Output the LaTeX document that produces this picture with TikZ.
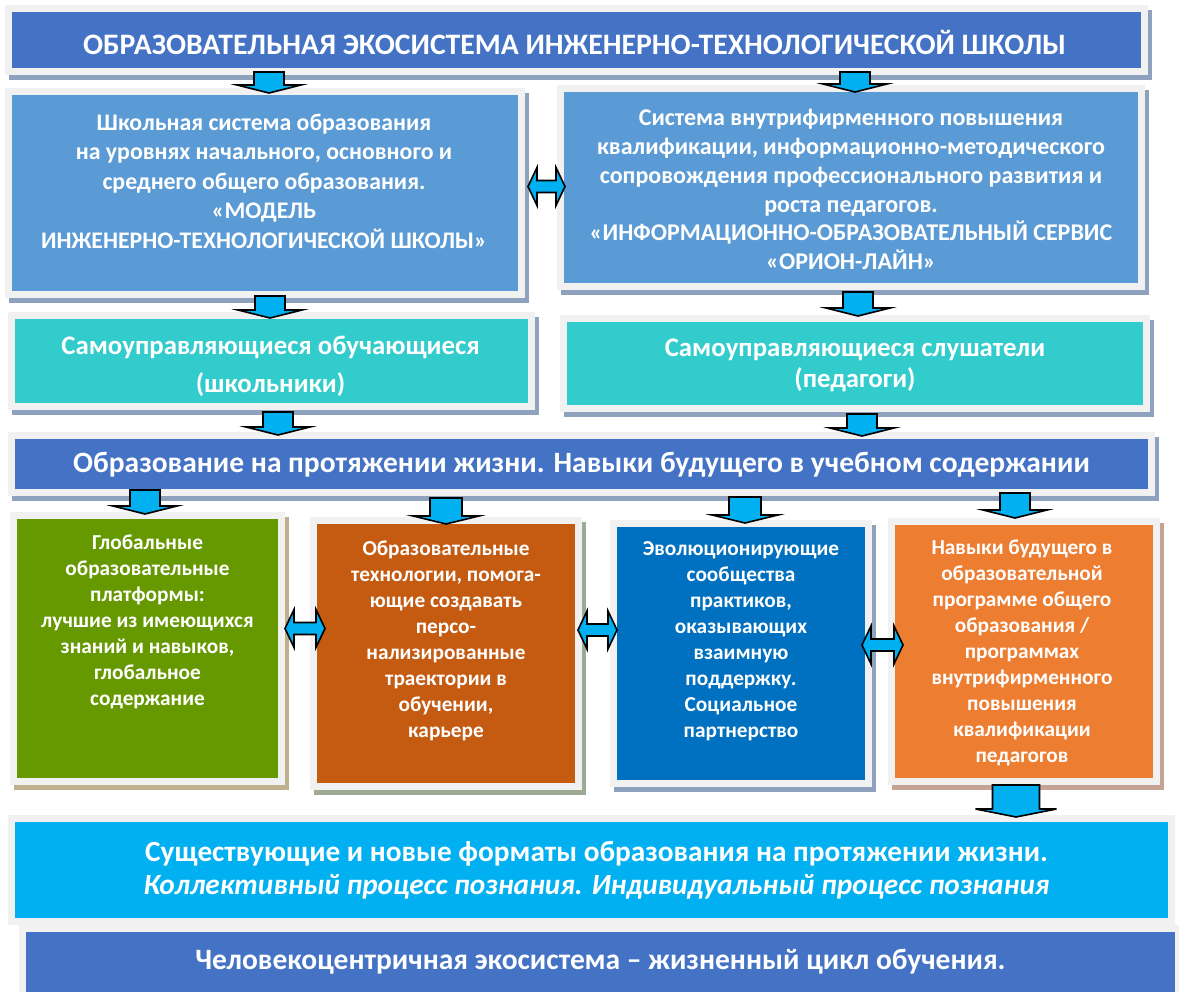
\documentclass[tikz,border=0pt]{standalone}
\usepackage{fontspec}
\setmainfont{Carlito}
\usetikzlibrary{positioning}
\usetikzlibrary{calc}

\definecolor{titleblue}{HTML}{4472C4}
\definecolor{skyblue}{HTML}{5B9BD5}
\definecolor{tealbox}{HTML}{33CCCC}
\definecolor{leafgreen}{HTML}{669900}
\definecolor{rust}{HTML}{C55A11}
\definecolor{deepblue}{HTML}{0070C0}
\definecolor{orangebox}{HTML}{ED7D31}
\definecolor{cyanbox}{HTML}{00B0F0}
\definecolor{framegray}{HTML}{F1F1F1}
\definecolor{shblue}{HTML}{8EA2BE}
\definecolor{shtan}{HTML}{BDB08A}
\definecolor{shsage}{HTML}{9DAA94}
\definecolor{shpink}{HTML}{C4A393}

\tikzset{box/.style={fill=#1, draw=framegray, line width=7pt, inner sep=0pt}}
\tikzset{boxshadow/.style={preaction={draw=#1, fill=#1, line width=7pt,
  transform canvas={shift={(4pt,-5pt)}}}}}
\tikzset{txt/.style={text=white, align=center, inner sep=0pt}}
\tikzset{blockarr/.style={fill=cyanbox, draw=black, line width=1.6pt, line join=miter}}

% block arrow pointing down, from top centre to tip; [half shaft width]
\newcommand{\blockdown}[3][15]{%
  \draw[blockarr] let \p1=#2, \p2=#3 in
    (\x1-#1pt,\y1) -- (\x1+#1pt,\y1) -- (\x1+#1pt,\y2+8pt) -- (\x1+#1pt+17pt,\y2+8pt)
    -- (\x1,\y2) -- (\x1-#1pt-17pt,\y2+8pt) -- (\x1-#1pt,\y2+8pt) -- cycle;}
% block arrow with two heads, from left tip to right tip
\newcommand{\blockboth}[2]{%
  \draw[blockarr] let \p1=#1, \p2=#2 in
    (\x1,\y1) -- (\x1+9pt,\y1+19pt) -- (\x1+9pt,\y1+6pt) -- (\x2-9pt,\y1+6pt)
    -- (\x2-9pt,\y1+19pt) -- (\x2,\y1) -- (\x2-9pt,\y1-19pt) -- (\x2-9pt,\y1-6pt)
    -- (\x1+9pt,\y1-6pt) -- (\x1+9pt,\y1-19pt) -- cycle;}

\begin{document}
\begin{tikzpicture}[x=1pt,y=-1pt]
\useasboundingbox (0,0) rectangle (1179,992);

% boxes
\node[box=titleblue, boxshadow=shblue, minimum width=1136, minimum height=63] (title) at (576.5,40) {};
\node[box=skyblue, boxshadow=shblue, minimum width=513, minimum height=203] (school) at (265,193) {};
\node[box=skyblue, boxshadow=shblue, minimum width=581, minimum height=198] (service) at (851,187.5) {};
\node[box=tealbox, boxshadow=shblue, minimum width=520, minimum height=91] (pupils) at (271.5,361) {};
\node[box=tealbox, boxshadow=shblue, minimum width=583, minimum height=90] (teachers) at (855,363.5) {};
\node[box=titleblue, boxshadow=shblue, minimum width=1140, minimum height=57] (life) at (581.5,464) {};
\node[box=leafgreen, boxshadow=shtan, minimum width=268, minimum height=266] (global) at (147.5,648.5) {};
\node[box=rust, boxshadow=shsage, minimum width=265, minimum height=266] (tech) at (446,653.5) {};
\node[box=deepblue, boxshadow=shblue, minimum width=255, minimum height=260] (community) at (741,653.5) {};
\node[box=orangebox, boxshadow=shpink, minimum width=265, minimum height=260] (skills) at (1024,651.5) {};
\node[box=cyanbox, minimum width=1160, minimum height=103] (formats) at (591.5,870) {};
\node[box=titleblue, minimum width=1156, minimum height=73] (base) at (600.5,965) {};

% texts
\node[txt, font=\bfseries\fontsize{29.7}{34}\selectfont] (titletxt) at ($(title)+(-2,2)$)
  {ОБРАЗОВАТЕЛЬНАЯ ЭКОСИСТЕМА ИНЖЕНЕРНО-ТЕХНОЛОГИЧЕСКОЙ ШКОЛЫ};
\node[txt, font=\bfseries\fontsize{23.8}{29.5}\selectfont] (schooltxt) at ($(school)+(-1,-12)$)
  {Школьная система образования\\на уровнях начального, основного и\\среднего общего образования.\\«МОДЕЛЬ\\ИНЖЕНЕРНО-ТЕХНОЛОГИЧЕСКОЙ ШКОЛЫ»};
\node[txt, font=\bfseries\fontsize{24}{28.8}\selectfont] (servicetxt) at ($(service)+(0,2)$)
  {Система внутрифирменного повышения\\квалификации, информационно-методического\\сопровождения профессионального развития и\\роста педагогов.\\«ИНФОРМАЦИОННО-ОБРАЗОВАТЕЛЬНЫЙ СЕРВИС\\«ОРИОН-ЛАЙН»};
\node[txt, font=\bfseries\fontsize{26.8}{38}\selectfont] (pupilstxt) at ($(pupils)+(-1,5)$)
  {Самоуправляющиеся обучающиеся\\(школьники)};
\node[txt, font=\bfseries\fontsize{26.8}{31}\selectfont] (teacherstxt) at ($(teachers)+(0,2)$)
  {Самоуправляющиеся слушатели\\(педагоги)};
\node[txt, font=\bfseries\fontsize{29.5}{34}\selectfont] (lifetxt) at ($(life)+(0,1)$)
  {Образование на протяжении жизни. Навыки будущего в учебном содержании};
\node[txt, font=\bfseries\fontsize{21.3}{26}\selectfont] (globaltxt) at ($(global)+(0,-27)$)
  {Глобальные\\образовательные\\платформы:\\лучшие из имеющихся\\знаний и навыков,\\глобальное\\содержание};
\node[txt, font=\bfseries\fontsize{21.3}{26}\selectfont] (techtxt) at ($(tech)+(0,-13)$)
  {Образовательные\\технологии, помога-\\ющие создавать\\персо-\\нализированные\\траектории в\\обучении,\\карьере};
\node[txt, font=\bfseries\fontsize{21.3}{26}\selectfont] (communitytxt) at ($(community)+(0,-12)$)
  {Эволюционирующие\\сообщества\\практиков,\\оказывающих\\взаимную\\поддержку.\\Социальное\\партнерство};
\node[txt, font=\bfseries\fontsize{21.3}{26}\selectfont] (skillstxt) at ($(skills)+(-2,1)$)
  {Навыки будущего в\\образовательной\\программе общего\\образования /\\программах\\внутрифирменного\\повышения\\квалификации\\педагогов};
\node[txt, font=\bfseries\fontsize{29.3}{33}\selectfont] (formatstxt) at ($(formats)+(5,0)$)
  {Существующие и новые форматы образования на протяжении жизни.\\
   \itshape Коллективный процесс познания. Индивидуальный процесс познания};
\node[txt, font=\bfseries\fontsize{29.5}{34}\selectfont] (basetxt) at ($(base)+(0,-3)$)
  {Человекоцентричная экосистема – жизненный цикл обучения.};

% arrows down
\blockdown{($(title.south -| school.north)+(4,-3)$)}{($(school.north)+(4,5)$)}
\blockdown{($(title.south -| service.north)+(4,-3)$)}{($(service.north)+(4,7)$)}
\blockdown{($(school.south)+(5,-2)$)}{($(pupils.north)+(5,6)$)}
\blockdown{($(service.south)+(7,2)$)}{($(teachers.north)+(3,1)$)}
\blockdown{($(pupils.south)+(6.5,2)$)}{($(life.north)+(6.5,3)$)}
\blockdown{($(teachers.south)+(7,2)$)}{($(life.north)+(7,4)$)}
\blockdown{($(life.south -| global.north)+(-2.5,-6)$)}{($(global.north)+(-2.5,2)$)}
\blockdown[16]{($(life.south -| tech.north)+(0,2)$)}{($(tech.north)+(0,7)$)}
\blockdown[16]{($(life.south -| community.north)+(4,1)$)}{($(community.north)+(4,3)$)}
\blockdown{($(life.south -| skills.north)+(-9,-3)$)}{($(skills.north)+(-9,0)$)}
\blockdown[23.5]{($(skills.south)+(-8,0)$)}{($(formats.north)+(-8,2)$)}

% arrows both ways
\blockboth{($(school.east |- service.west)+(3,-1)$)}{($(service.west)+(8,0)$)}
\blockboth{($(global.east)+(0,-20)$)}{($(tech.west)+(15,0)$)}
\blockboth{($(tech.east)+(-4,-23.5)$)}{($(community.west)+(7,0)$)}
\blockboth{($(community.east)+(-10,-8.5)$)}{($(skills.west)+(15,0)$)}

\end{tikzpicture}
\end{document}
